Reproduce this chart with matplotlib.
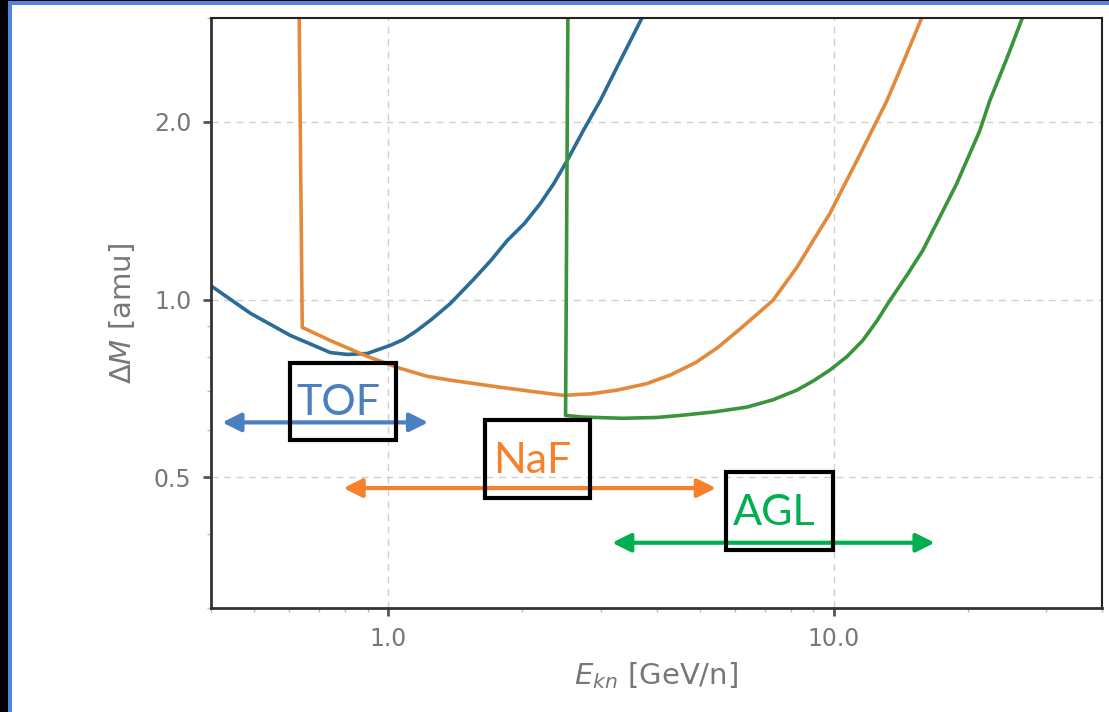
import numpy as np
import matplotlib
matplotlib.use("Agg")
import matplotlib.pyplot as plt
from matplotlib.patches import Rectangle

# mass resolution curves (E_kn [GeV/n], dM [amu])
tof_e = [0.405, 0.491, 0.603, 0.67, 0.741, 0.809, 0.897, 1.01, 1.08, 1.16,
         1.25, 1.377, 1.46, 1.551, 1.70, 1.848, 2.02, 2.192, 2.35, 2.519,
         2.736, 2.988, 3.3, 3.71]
tof_m = [1.048, 0.947, 0.869, 0.84, 0.813, 0.807, 0.810, 0.836, 0.855, 0.886,
         0.925, 0.984, 1.03, 1.08, 1.165, 1.258, 1.345, 1.453, 1.57, 1.718,
         1.93, 2.170, 2.52, 3.0]

naf_e = [0.631, 0.641, 0.741, 0.897, 1.048, 1.223, 1.377, 1.783, 2.15, 2.467,
         2.85, 3.26, 3.8, 4.3, 4.9, 5.5, 6.2, 7.297, 8.26, 9.0, 9.795,
         10.5, 11.26, 12.49, 13.15, 14.4, 15.75]
naf_m = [3.0, 0.897, 0.852, 0.801, 0.767, 0.741, 0.730, 0.710, 0.697, 0.688,
         0.692, 0.702, 0.720, 0.745, 0.782, 0.830, 0.895, 0.996, 1.133, 1.26,
         1.398, 1.55, 1.718, 2.008, 2.170, 2.55, 3.0]

agl_e = [2.53, 2.50, 2.74, 3.36, 4.0, 4.516, 5.4, 6.38, 7.3, 8.26, 9.0, 9.795,
         10.7, 11.61, 12.5, 13.36, 14.6, 15.83, 17.3, 18.87, 21.26, 22.38,
         24.4, 26.5]
agl_m = [3.0, 0.636, 0.632, 0.629, 0.631, 0.636, 0.645, 0.657, 0.676, 0.702,
         0.728, 0.759, 0.80, 0.852, 0.92, 0.996, 1.10, 1.210, 1.38, 1.571,
         1.931, 2.170, 2.55, 3.0]

# energy ranges of each detector (arrows) and their labels
labels = ["TOF", "NaF", "AGL"]
ranges = [(0.424, 1.229), (0.793, 5.44), (3.18, 16.85)]
arrow_m = [0.619, 0.479, 0.387]

curve_colors = ["#2a6b98", "#e3893a", "#3a953a"]
note_colors = ["#4a7fc0", "#f5822a", "#00b050"]

fig = plt.figure(figsize=(11.09, 7.12), dpi=100)
fig.patch.set_facecolor("white")

# frame of the slide: black strip + blue line on left and top
fig.add_artist(Rectangle((0, 0), 8 / 1109, 1, transform=fig.transFigure,
                         color="black", lw=0))
fig.add_artist(Rectangle((8 / 1109, 0), 4 / 1109, 1, transform=fig.transFigure,
                         color="#4f86e0", lw=0))
fig.add_artist(Rectangle((0, 1 - 1 / 712), 1, 1 / 712, transform=fig.transFigure,
                         color="black", lw=0))
fig.add_artist(Rectangle((8 / 1109, 1 - 5 / 712), 1, 4 / 712,
                         transform=fig.transFigure, color="#4f86e0", lw=0))

ax = fig.add_axes([211 / 1109, 1 - 608 / 712, 891 / 1109, 590 / 712])

for e, m, c in zip([tof_e, naf_e, agl_e], [tof_m, naf_m, agl_m], curve_colors):
    ax.plot(e, m, color=c, lw=2.6)

ax.set_xscale("log")
ax.set_yscale("log")
ax.set_xlim(0.4, 40)
ax.set_ylim(0.3, 3.0)
ax.set_xticks([1.0, 10.0])
ax.set_xticklabels(["1.0", "10.0"])
ax.set_yticks([0.5, 1.0, 2.0])
ax.set_yticklabels(["0.5", "1.0", "2.0"])
ax.yaxis.set_minor_formatter(matplotlib.ticker.NullFormatter())
ax.xaxis.set_minor_formatter(matplotlib.ticker.NullFormatter())
ax.grid(True, which="major", ls=(0, (5, 4)), color="#d0d0d0", lw=1)

ax.tick_params(which="major", length=6, width=2, color="#555555",
               labelcolor="#777777", labelsize=17, pad=8)
ax.tick_params(which="minor", length=3, width=1, color="#bbbbbb")
for s in ["left", "bottom"]:
    ax.spines[s].set_linewidth(2)
    ax.spines[s].set_color("#333333")
for s in ["top", "right"]:
    ax.spines[s].set_linewidth(1.5)
    ax.spines[s].set_color("#222222")

ax.set_xlabel(r"$E_{kn}$ [GeV/n]", fontsize=21, color="#777777", labelpad=6)
ax.set_ylabel(r"$\Delta M$ [amu]", fontsize=21, color="#777777", labelpad=12)

# boxes around the labels (E0, E1, M0, M1)
boxes = [(0.603, 1.042, 0.578, 0.782), (1.65, 2.84, 0.461, 0.624),
         (5.73, 9.95, 0.376, 0.510)]

for lab, (e0, e1), m, col, (bx0, bx1, by0, by1) in zip(labels, ranges, arrow_m,
                                                        note_colors, boxes):
    ax.annotate("", xy=(e0, m), xytext=(e1, m),
                arrowprops=dict(arrowstyle="<|-|>", color=col, lw=3,
                                mutation_scale=28, shrinkA=0, shrinkB=0))
    ax.add_patch(Rectangle((bx0, by0), bx1 - bx0, by1 - by0, fill=False,
                           ec="black", lw=3, zorder=5))
    ax.text(bx0 * (bx1 / bx0) ** 0.45, by0 * (by1 / by0) ** 0.48, lab, color=col,
            fontsize=31, family="Lato", ha="center", va="center", zorder=6)

fig.savefig("out.png", dpi=100)
